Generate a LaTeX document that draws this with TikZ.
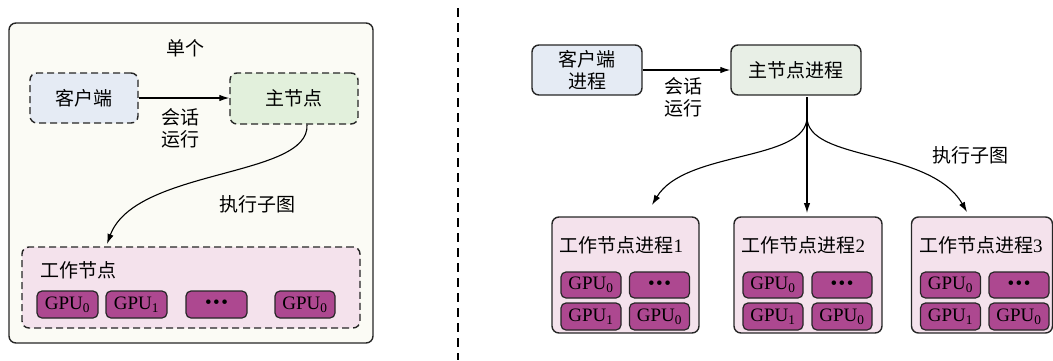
\documentclass[tikz,border=0pt]{standalone}
\usepackage{fontspec}
\setmainfont{Liberation Serif}
\newfontfamily\cjk{Noto Sans CJK SC}
\usetikzlibrary{arrows.meta}
\definecolor{panelbg}{HTML}{FBFBF5}
\definecolor{cliblue}{HTML}{E5EBF4}
\definecolor{mastgreen}{HTML}{E2F0DC}
\definecolor{mastgreenb}{HTML}{E8EFE6}
\definecolor{workpink}{HTML}{F4E2EC}
\definecolor{gpumag}{HTML}{AD4890}
\tikzset{
  x=1pt, y=-1pt,
  every node/.style={font=\fontsize{19}{22}\selectfont, inner sep=0pt},
  dashbox/.style={draw=black!85, line width=1.4pt, dash pattern=on 7pt off 4pt, rounded corners=7pt},
  solidbox/.style={draw=black!85, line width=1.4pt, rounded corners=7pt},
  gpubox/.style={draw=black!85, line width=1.2pt, rounded corners=5pt, fill=gpumag, minimum height=27pt, minimum width=61pt},
  arr/.style={line width=1.1pt, -{Latex[length=10pt,width=6.5pt]}},
}
\newcommand{\gpu}[1]{GPU\textsubscript{#1}}
\newcommand{\gdots}{\textbullet\hspace{1.5pt}\textbullet\hspace{1.5pt}\textbullet}
\begin{document}
\begin{tikzpicture}
\useasboundingbox (0,0) rectangle (1053,360);
% ---------- left panel ----------
\node[solidbox, fill=panelbg, minimum width=364pt, minimum height=320pt] (panel) at (191,183) {};
\node (single) at (185,48) {\cjk 单个};
\node[dashbox, fill=cliblue, minimum width=108pt, minimum height=50pt] (cli) at (84,98) {\cjk 客户端};
\node[dashbox, fill=mastgreen, minimum width=128pt, minimum height=51pt] (mast) at (294,98.5) {\cjk 主节点};
\draw[arr] (cli.east) -- (cli.east -| mast.west);
\node[align=center] (sesl) at (180,128) {\cjk 会话\\\cjk 运行};
\node[dashbox, fill=workpink, minimum width=338pt, minimum height=81pt] (work) at (191,287.5) {};
\node[anchor=west] (workl) at (40,270) {\cjk 工作节点};
\node[gpubox] (g1) at (67.5,304.5) {\gpu{0}};
\node[gpubox] (g2) at (136.5,304.5) {\gpu{1}};
\node[gpubox] (g3) at (216.5,304.5) {\gdots};
\node[gpubox, minimum width=60pt] (g4) at (305,304.5) {\gpu{0}};
\coordinate (ms) at ([xshift=13pt]mast.south);
\coordinate (wt) at (107,244);
\draw[arr] (ms) .. controls (310,178) and (135,168) .. (wt);
\node (execl) at (257,204) {\cjk 执行子图};
% separator
\coordinate (sepa) at (458,8);
\coordinate (sepb) at (458,360);
\draw[line width=1.1pt, dash pattern=on 9pt off 6pt] (sepa) -- (sepb);
% ---------- right panel ----------
\node[solidbox, fill=cliblue, minimum width=110pt, minimum height=50pt, align=center] (cli2) at (587,70) {\cjk 客户端\\\cjk 进程};
\node[solidbox, fill=mastgreenb, minimum width=130pt, minimum height=50pt] (mast2) at (796,70) {\cjk 主节点进程};
\draw[arr] (cli2.east) -- (cli2.east -| mast2.west);
\node[align=center] (sesr) at (683,97) {\cjk 会话\\\cjk 运行};
% workers
\foreach \n/\cx/\w in {1/625.5/147, 2/808/148, 3/982/141}{
  \node[solidbox, fill=workpink, minimum width=\w pt, minimum height=116pt] (w\n) at (\cx,275) {};
  \node[anchor=west] (w\n t) at ([xshift=8pt]w\n.west |- 0,245) {{\cjk 工作节点进程}\n};
}
\foreach \n/\ca/\cb in {1/591/659.5, 2/773/842, 3/950.5/1019}{
  \node[gpubox, minimum width=60pt, minimum height=26pt] (w\n a) at (\ca,285) {\gpu{0}};
  \node[gpubox, minimum width=60pt, minimum height=26pt] (w\n b) at (\cb,285) {\gdots};
  \node[gpubox, minimum width=60pt, minimum height=27pt] (w\n c) at (\ca,316.5) {\gpu{1}};
  \node[gpubox, minimum width=60pt, minimum height=27pt] (w\n d) at (\cb,316.5) {\gpu{0}};
}
\coordinate (mb) at (807,97);
\coordinate (br) at (807,117);
\coordinate (t1) at (652,205);
\coordinate (t2) at (807,213);
\coordinate (t3) at (967,212);
\draw[arr] (mb) -- (t2);
\draw[arr] (br) .. controls (807,162) and (685,150) .. (t1);
\draw[arr] (br) .. controls (807,162) and (930,148) .. (t3);
\node (execr) at (970,155) {\cjk 执行子图};
\end{tikzpicture}
\end{document}
